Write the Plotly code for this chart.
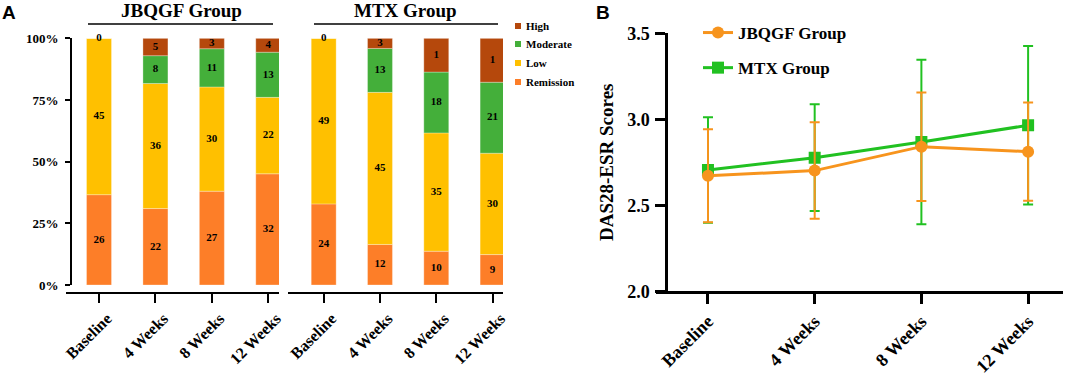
import plotly.graph_objects as go

W, H = 1065, 377
def px(x): return x / W
def py(y): return 1 - y / H

# ---------------- data ----------------
timepoints = ["Baseline", "4 Weeks", "8 Weeks", "12 Weeks"]
levels = ["Remission", "Low", "Moderate", "High"]

jbqgf_remission = [26, 22, 27, 32]
jbqgf_low = [45, 36, 30, 22]
jbqgf_moderate = [0, 8, 11, 13]
jbqgf_high = [0, 5, 3, 4]

mtx_remission = [24, 12, 10, 9]
mtx_low = [49, 45, 35, 30]
mtx_moderate = [0, 13, 18, 21]
mtx_high = [0, 3, 10, 13]
mtx_high_labels = ["0", "3", "1", "1"]  # labels as printed in the figure

jbqgf_score = [2.673, 2.703, 2.842, 2.813]
jbqgf_sd = [0.27, 0.28, 0.315, 0.285]
mtx_score = [2.706, 2.778, 2.869, 2.966]
mtx_sd = [0.306, 0.31, 0.477, 0.46]

level_colors = {"High": "#B5480C", "Moderate": "#44AF3A", "Low": "#FFC000", "Remission": "#FD7E28"}
SERIF = "Liberation Serif, Times New Roman, serif"
ORANGE = "#F7941D"
GREEN = "#21C121"

fig = go.Figure()

def add_group(series, label_overrides, xa, ya):
    totals = [sum(v) for v in zip(*series.values())]
    base = [0.0] * len(timepoints)
    tx, ty, tt = [], [], []
    for lev in levels:
        vals = series[lev]
        pct = [v / t * 100 for v, t in zip(vals, totals)]
        fig.add_trace(go.Bar(
            x=timepoints, y=pct, base=base[:], name=lev, xaxis=xa, yaxis=ya,
            marker=dict(color=level_colors[lev], line=dict(color="rgba(255,255,255,0.5)", width=0.6)),
            width=0.443, showlegend=False, hoverinfo="skip"))
        labels = label_overrides.get(lev, [str(v) for v in vals])
        for i, tp in enumerate(timepoints):
            if lev == "Moderate" and vals[i] == 0:
                continue
            tx.append(tp)
            ty.append(base[i] + pct[i] / 2)
            tt.append(labels[i])
        base = [b + p for b, p in zip(base, pct)]
    fig.add_trace(go.Scatter(
        x=tx, y=ty, text=tt, mode="text", xaxis=xa, yaxis=ya, showlegend=False, cliponaxis=False,
        textfont=dict(family=SERIF, size=11, color="black", weight="bold"), hoverinfo="skip"))

add_group({"Remission": jbqgf_remission, "Low": jbqgf_low, "Moderate": jbqgf_moderate, "High": jbqgf_high},
          {}, "x", "y")
add_group({"Remission": mtx_remission, "Low": mtx_low, "Moderate": mtx_moderate, "High": mtx_high},
          {"High": mtx_high_labels}, "x2", "y2")

# Panel B
fig.add_trace(go.Scatter(
    x=timepoints, y=mtx_score, name="MTX Group", xaxis="x3", yaxis="y3",
    mode="lines+markers", line=dict(color=GREEN, width=3),
    marker=dict(symbol="square", size=12, color=GREEN),
    error_y=dict(type="data", array=mtx_sd, color=GREEN, thickness=2, width=5),
    legend="legend2", legendrank=2, legendgroup="m"))
fig.add_trace(go.Scatter(
    x=timepoints, y=jbqgf_score, name="JBQGF Group", xaxis="x3", yaxis="y3",
    mode="lines+markers", line=dict(color=ORANGE, width=3),
    marker=dict(symbol="circle", size=12, color=ORANGE),
    error_y=dict(type="data", array=jbqgf_sd, color=ORANGE, thickness=2, width=5),
    legend="legend2", legendrank=1, legendgroup="j"))

axis_common = dict(showgrid=False, zeroline=False, showline=True, linecolor="black", ticks="outside",
                   tickcolor="black", automargin=False)

fig.update_layout(
    template="none",
    width=W, height=H, margin=dict(l=0, r=0, t=0, b=0, autoexpand=False),
    plot_bgcolor="white", paper_bgcolor="white", barmode="overlay",
    xaxis=dict(**axis_common, domain=[px(66), px(279)], range=[-0.585, 3.19], type="category",
               anchor="free", position=py(293), linewidth=2, ticklen=9, tickwidth=2, tickangle=-45,
               ticklabelshift=8,
               tickfont=dict(family=SERIF, size=16, color="black", weight="bold")),
    yaxis=dict(**axis_common, domain=[py(285), py(38.3)], range=[0, 100], anchor="free", position=px(71),
               linewidth=2, ticklen=5, tickwidth=2, tickvals=[0, 25, 50, 75, 100],
               ticktext=["0%", "25%", "50%", "75%", "100%"], ticklabelstandoff=4,
               tickfont=dict(family=SERIF, size=13, color="black", weight="bold")),
    xaxis2=dict(**axis_common, domain=[px(288), px(503)], range=[-0.634, 3.185], type="category",
                anchor="free", position=py(293), linewidth=2, ticklen=9, tickwidth=2, tickangle=-45,
                ticklabelshift=8,
                tickfont=dict(family=SERIF, size=16, color="black", weight="bold")),
    yaxis2=dict(domain=[py(285), py(38.3)], range=[0, 100], anchor="free", position=px(288), visible=False,
                automargin=False),
    xaxis3=dict(**axis_common, domain=[px(656), px(1063)], range=[-0.487, 3.327], type="category",
                anchor="free", position=py(292), linewidth=2.5, ticklen=10, tickwidth=2.5, tickangle=-45,
                tickfont=dict(family=SERIF, size=18, color="black", weight="bold")),
    yaxis3=dict(**axis_common, domain=[py(291.7), py(33.3)], range=[2, 3.5], anchor="free", position=px(666),
                linewidth=2.5, ticklen=10, tickwidth=2.5, tickvals=[2, 2.5, 3, 3.5], tickformat=".1f",
                ticklabelstandoff=2,
                tickfont=dict(family=SERIF, size=18, color="black", weight="bold")),
    legend2=dict(x=px(698), y=py(15), xanchor="left", yanchor="top", bgcolor="rgba(0,0,0,0)",
                 font=dict(family=SERIF, size=17, color="black", weight="bold"), tracegroupgap=10,
                 itemwidth=30),
    showlegend=True,
)

annotations = [
    dict(text="A", x=px(0), y=py(12), xanchor="left", yanchor="middle",
         font=dict(family="Liberation Sans", size=19, color="black", weight="bold")),
    dict(text="B", x=px(594), y=py(12), xanchor="left", yanchor="middle",
         font=dict(family="Liberation Sans", size=19, color="black", weight="bold")),
    dict(text="JBQGF Group", x=px(181), y=py(11), xanchor="center", yanchor="middle",
         font=dict(family=SERIF, size=19, color="black", weight="bold")),
    dict(text="MTX Group", x=px(406), y=py(11), xanchor="center", yanchor="middle",
         font=dict(family=SERIF, size=19, color="black", weight="bold")),
    dict(text="DAS28-ESR Scores", x=px(607), y=py(163), xanchor="center", yanchor="middle", textangle=-90,
         font=dict(family=SERIF, size=19, color="black", weight="bold")),
]
shapes = [
    dict(type="line", xref="paper", yref="paper", x0=px(88), x1=px(273), y0=py(24), y1=py(24),
         line=dict(color="black", width=1.5)),
    dict(type="line", xref="paper", yref="paper", x0=px(314), x1=px(498), y0=py(24), y1=py(24),
         line=dict(color="black", width=1.5)),
]
legend_y = [26, 44, 63, 82]
for lev, yy in zip(["High", "Moderate", "Low", "Remission"], legend_y):
    shapes.append(dict(type="rect", xref="paper", yref="paper", x0=px(515), x1=px(521),
                       y0=py(yy + 3), y1=py(yy - 3), fillcolor=level_colors[lev], line=dict(width=0)))
    annotations.append(dict(text=lev, x=px(524), y=py(yy), xanchor="left", yanchor="middle",
                            font=dict(family=SERIF, size=11, color="black", weight="bold")))
for a in annotations:
    a.update(xref="paper", yref="paper", showarrow=False)
fig.update_layout(annotations=annotations, shapes=shapes)

fig.write_html("out.html", config={"displayModeBar": False},
               post_script="document.body.style.margin='0';document.body.style.padding='0';")
